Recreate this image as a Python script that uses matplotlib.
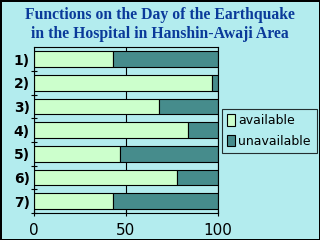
import numpy as np
import matplotlib.pyplot as plt

# values (percent of hospitals)
labels = ["1)", "2)", "3)", "4)", "5)", "6)", "7)"]
available = [43, 97, 68, 84, 47, 78, 43]
unavailable = [100 - v for v in available]
series_names = ["available", "unavailable"]

bg = "#b3ecee"
green = "#ccffcc"
teal = "#468c8c"

fig = plt.figure(figsize=(3.2, 2.4), dpi=100, facecolor=bg)
fig.patch.set_edgecolor("black")
fig.patch.set_linewidth(2)
ax = fig.add_axes([0.106, 0.1125, 0.575, 0.69])
ax.set_facecolor(bg)

y = np.arange(1, len(labels) + 1)
ax.barh(y, available, height=0.66, color=green, edgecolor="black", linewidth=0.8,
        label=series_names[0])
ax.barh(y, unavailable, left=available, height=0.66, color=teal, edgecolor="black",
        linewidth=0.8, label=series_names[1])

ax.set_xlim(0, 100)
ax.set_ylim(7.5, 0.5)
ax.set_xticks([0, 50, 100])
ax.set_yticks(y)
ax.set_yticklabels(labels, fontsize=10, fontweight="bold")
ax.set_yticks(np.arange(1.5, 8, 1), minor=True)
ax.tick_params(axis="y", which="major", length=0, pad=3)
ax.tick_params(axis="y", which="minor", direction="inout", length=5, width=0.8)
ax.tick_params(axis="x", direction="inout", length=5, width=0.8, labelsize=11, pad=5)
ax.set_axisbelow(True)
ax.xaxis.grid(True, color="black", linewidth=0.8)
for s in ax.spines.values():
    s.set_linewidth(0.8)

leg = ax.legend(loc="upper left", bbox_to_anchor=(1.02, 0.63), fontsize=9,
                frameon=True, fancybox=False, edgecolor="black", facecolor=bg,
                handlelength=0.6, handleheight=1.0, handletextpad=0.3,
                borderpad=0.45, labelspacing=0.6, borderaxespad=0)
leg.get_frame().set_linewidth(0.8)

fig.text(0.5, 0.972, "Functions on the Day of the Earthquake\nin the Hospital in Hanshin-Awaji Area",
         ha="center", va="top", fontsize=11.3, fontweight="bold", family="Liberation Serif",
         color="#0a3a9a", linespacing=1.25)

fig.savefig("out.png", dpi=100, facecolor=bg, edgecolor="black")
